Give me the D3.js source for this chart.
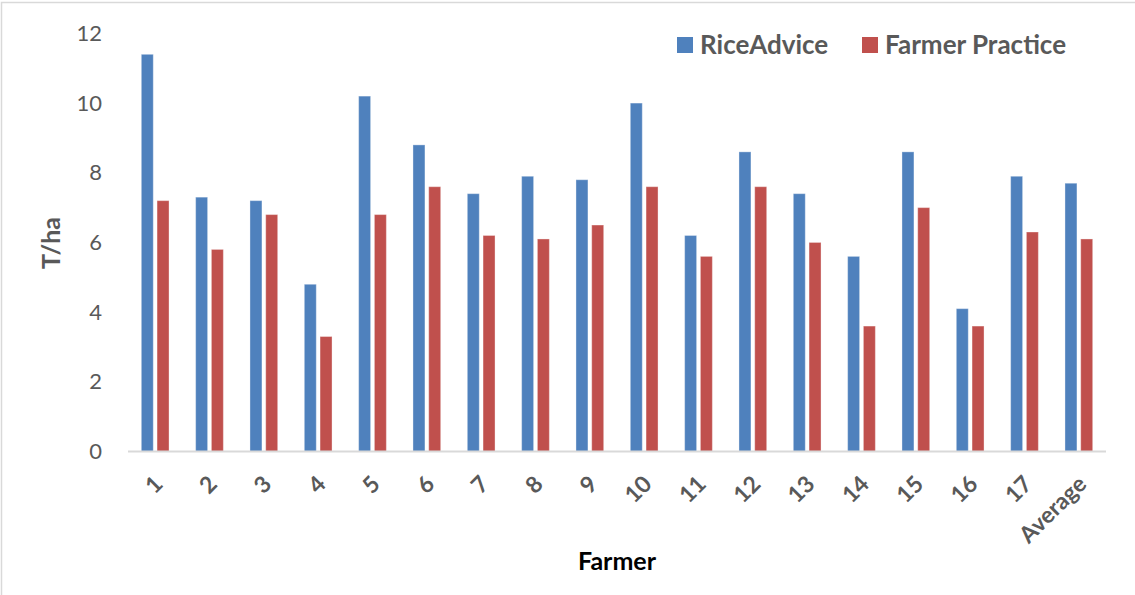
<!DOCTYPE html>
<html>
<head>
<meta charset="utf-8">
<script src="https://cdn.jsdelivr.net/npm/d3@7"></script>
<style>
  html, body { margin: 0; padding: 0; background: #fff; }
  svg { display: block; }
  text { font-family: Lato, "Open Sans", sans-serif; }
</style>
</head>
<body>
<svg id="chart" width="1135" height="595"></svg>
<script>
// Rice yield per farmer (T/ha): RiceAdvice recommendation vs. farmer practice
const categories = ["1","2","3","4","5","6","7","8","9","10","11","12","13","14","15","16","17","Average"];
const riceAdvice = [11.4, 7.3, 7.2, 4.8, 10.2, 8.8, 7.4, 7.9, 7.8, 10.0, 6.2, 8.6, 7.4, 5.6, 8.6, 4.1, 7.9, 7.7];
const farmerPractice = [7.2, 5.8, 6.8, 3.3, 6.8, 7.6, 6.2, 6.1, 6.5, 7.6, 5.6, 7.6, 6.0, 3.6, 7.0, 3.6, 6.3, 6.1];
const seriesNames = ["RiceAdvice", "Farmer Practice"];
const seriesColors = ["#4f81bd", "#c0504d"];
const yTicks = [0, 2, 4, 6, 8, 10, 12];

const svg = d3.select("#chart");

// outer chart frame
svg.append("rect")
  .attr("x", 1.5).attr("y", 2.5)
  .attr("width", 1140).attr("height", 600)
  .attr("fill", "none").attr("stroke", "#d9d9d9").attr("stroke-width", 1.5);

const plot = { left: 128, right: 1106, top: 33.4, bottom: 451.5 };

const x0 = d3.scaleBand()
  .domain(categories)
  .range([plot.left, plot.right])
  .paddingInner(0.49)
  .paddingOuter(0.245);

const x1 = d3.scaleBand()
  .domain(seriesNames)
  .range([0, x0.bandwidth()])
  .paddingInner(0.24);

const y = d3.scaleLinear().domain([0, 12]).range([plot.bottom, plot.top]);

const rows = categories.map((c, i) => ({ cat: c, values: [riceAdvice[i], farmerPractice[i]] }));

// bars
const groups = svg.append("g").selectAll("g")
  .data(rows).join("g")
  .attr("transform", d => `translate(${x0(d.cat)},0)`);

groups.selectAll("rect")
  .data(d => d.values.map((v, j) => ({ name: seriesNames[j], value: v, color: seriesColors[j] })))
  .join("rect")
  .attr("x", d => x1(d.name))
  .attr("y", d => y(d.value))
  .attr("width", x1.bandwidth())
  .attr("height", d => y(0) - y(d.value))
  .attr("fill", d => d.color)
  .attr("stroke", "#ffffff")
  .attr("stroke-opacity", 0.35)
  .attr("stroke-width", 1);

// y axis (labels only)
const yAxis = d3.axisLeft(y).tickValues(yTicks).tickSize(0).tickPadding(0);
const gy = svg.append("g")
  .attr("transform", `translate(${plot.left - 26},0)`)
  .call(yAxis);
gy.select(".domain").remove();
gy.selectAll("text")
  .attr("fill", "#595959")
  .attr("font-size", 22)
  .attr("font-family", "Lato, sans-serif");

// x axis line and rotated category labels
const xAxis = d3.axisBottom(x0).tickSize(0).tickPadding(0);
const gx = svg.append("g")
  .attr("transform", `translate(0,${plot.bottom})`)
  .call(xAxis);
gx.select(".domain")
  .attr("d", `M${plot.left},0H${plot.right}`)
  .attr("stroke", "#d9d9d9").attr("stroke-width", 2);
gx.selectAll(".tick text")
  .attr("fill", "#595959")
  .attr("font-size", 23)
  .attr("font-weight", "bold")
  .attr("font-family", "Lato, sans-serif")
  .attr("text-anchor", "end")
  .attr("dy", null)
  .attr("y", null)
  .attr("transform", "translate(9,34) rotate(-45)");

// axis titles
svg.append("text")
  .attr("transform", "translate(60,243) rotate(-90)")
  .attr("text-anchor", "middle")
  .attr("font-size", 25)
  .attr("font-weight", "bold")
  .attr("fill", "#595959")
  .text("T/ha");

svg.append("text")
  .attr("x", 617).attr("y", 570)
  .attr("text-anchor", "middle")
  .attr("font-size", 25)
  .attr("font-weight", "bold")
  .attr("fill", "#000000")
  .text("Farmer");

// legend
const legendItems = [
  { name: seriesNames[0], color: seriesColors[0], x: 677 },
  { name: seriesNames[1], color: seriesColors[1], x: 862 }
];
const lg = svg.append("g").selectAll("g")
  .data(legendItems).join("g")
  .attr("transform", d => `translate(${d.x},37)`);
lg.append("rect")
  .attr("width", 16).attr("height", 16)
  .attr("fill", d => d.color);
lg.append("text")
  .attr("x", 23).attr("y", 17)
  .attr("font-size", 26)
  .attr("font-weight", "bold")
  .attr("fill", "#595959")
  .text(d => d.name);
</script>
</body>
</html>
